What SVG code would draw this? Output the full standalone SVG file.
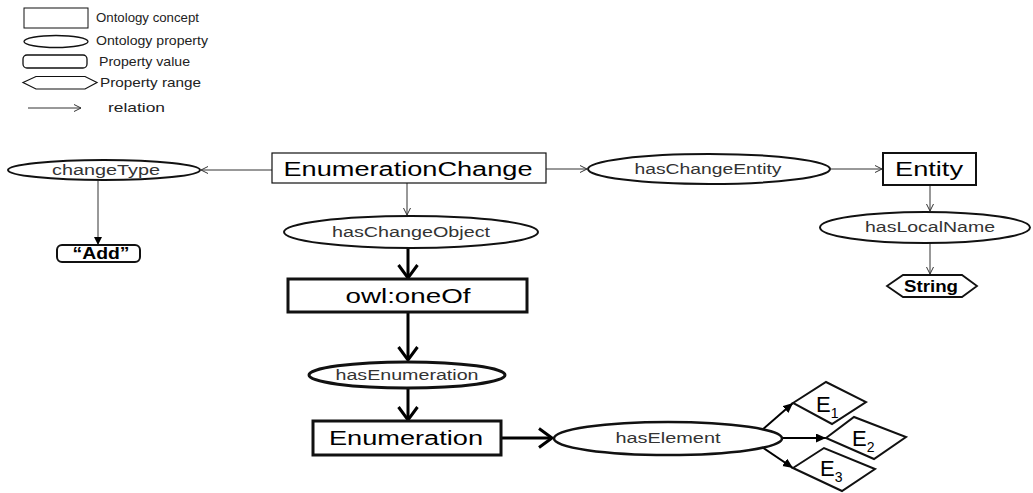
<svg xmlns="http://www.w3.org/2000/svg" width="1033" height="493" viewBox="0 0 1033 493">
<defs>
<style>
.bg{fill:#fff}
.shape{fill:#fff;stroke:#111}
.lg{font-family:"Liberation Sans",Arial,sans-serif;font-size:13px;fill:#222}
.pt{font-family:"Liberation Sans",Arial,sans-serif;font-size:14px;fill:#333;text-anchor:middle}
.nt{font-family:"Liberation Sans",Arial,sans-serif;font-size:20px;fill:#000;text-anchor:middle}
.et{font-family:"Liberation Sans",Arial,sans-serif;font-size:22px;fill:#000;text-anchor:start}
.vt{font-family:"Liberation Sans",Arial,sans-serif;font-size:16px;font-weight:bold;fill:#000;text-anchor:middle}
.thin{stroke:#333;stroke-width:1;fill:none}
.thick{stroke:#000;stroke-width:3;fill:none}
.mid{stroke:#000;stroke-width:2;fill:none}
</style>
<marker id="openThin" markerUnits="userSpaceOnUse" markerWidth="10" markerHeight="10" refX="7" refY="4" orient="auto">
<path d="M0,0.5 L7,4 L0,7.5" fill="none" stroke="#333" stroke-width="1"/>
</marker>
<marker id="fillThin" markerUnits="userSpaceOnUse" markerWidth="10" markerHeight="10" refX="8" refY="4" orient="auto">
<path d="M0,0 L8,4 L0,8 Z" fill="#000"/>
</marker>
<marker id="openThick" markerUnits="userSpaceOnUse" markerWidth="24" markerHeight="24" refX="14" refY="11" orient="auto">
<path d="M1,1.5 L14,11 L1,20.5" fill="none" stroke="#000" stroke-width="3"/>
</marker>
<marker id="fillMid" markerUnits="userSpaceOnUse" markerWidth="14" markerHeight="12" refX="10" refY="4.5" orient="auto">
<path d="M0,0 L10,4.5 L0,9 Z" fill="#000"/>
</marker>
</defs>
<rect class="bg" x="0" y="0" width="1033" height="493"/>

<g id="legend">
<rect class="shape" x="24" y="8" width="64" height="20" stroke-width="1"/>
<text class="lg" x="96" y="22" textLength="103" lengthAdjust="spacingAndGlyphs">Ontology concept</text>
<ellipse class="shape" cx="56" cy="41.5" rx="32" ry="6" stroke-width="1.3"/>
<text class="lg" x="96" y="45" textLength="112" lengthAdjust="spacingAndGlyphs">Ontology property</text>
<rect class="shape" x="23" y="55" width="64" height="13" rx="4" stroke-width="1.3"/>
<text class="lg" x="99" y="66" textLength="91" lengthAdjust="spacingAndGlyphs">Property value</text>
<polygon class="shape" points="23,82.5 36,76.5 85,76.5 97,82.5 85,89 36,89" stroke-width="1.2"/>
<text class="lg" x="100" y="87" textLength="101" lengthAdjust="spacingAndGlyphs">Property range</text>
<line class="thin" x1="28" y1="108" x2="81" y2="108" marker-end="url(#openThin)"/>
<text class="lg" x="108" y="112" textLength="57" lengthAdjust="spacingAndGlyphs">relation</text>
</g>

<g id="connectors">
<line class="thin" x1="272" y1="170" x2="201" y2="170" marker-end="url(#openThin)"/>
<line class="thin" x1="98" y1="181" x2="98" y2="245" marker-end="url(#fillThin)"/>
<line class="thin" x1="546" y1="169" x2="587" y2="169" marker-end="url(#openThin)"/>
<line class="thin" x1="830" y1="169" x2="882" y2="169" marker-end="url(#openThin)"/>
<line class="thin" x1="930" y1="185" x2="930" y2="211" marker-end="url(#openThin)"/>
<line class="thin" x1="930" y1="243" x2="930" y2="274" marker-end="url(#openThin)"/>
<line class="thin" x1="407" y1="183" x2="407" y2="215" marker-end="url(#openThin)"/>
<line class="thick" x1="408" y1="248" x2="408" y2="278" marker-end="url(#openThick)"/>
<line class="thick" x1="408" y1="312" x2="408" y2="360" marker-end="url(#openThick)"/>
<line class="thick" x1="408" y1="388" x2="408" y2="420" marker-end="url(#openThick)"/>
<line class="thick" x1="501" y1="438" x2="552" y2="438" marker-end="url(#openThick)"/>
<line class="mid" x1="762" y1="430" x2="793" y2="403" marker-end="url(#fillMid)"/>
<line class="mid" x1="782" y1="438" x2="826" y2="438" marker-end="url(#fillMid)"/>
<line class="mid" x1="762" y1="447" x2="793" y2="468" marker-end="url(#fillMid)"/>
</g>

<g id="changeType">
<ellipse class="shape" cx="104" cy="170" rx="96" ry="10" stroke-width="2"/>
<text class="pt" x="106" y="175" textLength="108" lengthAdjust="spacingAndGlyphs">changeType</text>
</g>

<g id="add">
<rect class="shape" x="57" y="245" width="83" height="17" rx="5" stroke-width="2"/>
<text class="vt" x="101" y="259" textLength="57" lengthAdjust="spacingAndGlyphs">“Add”</text>
</g>

<g id="enumerationChange">
<rect class="shape" x="272" y="153" width="274" height="30" stroke="#444" stroke-width="1.2"/>
<text class="nt" x="408" y="176" font-size="19" textLength="249" lengthAdjust="spacingAndGlyphs">EnumerationChange</text>
</g>

<g id="hasChangeEntity">
<ellipse class="shape" cx="709" cy="169" rx="121" ry="15" stroke-width="2"/>
<text class="pt" x="708" y="174" textLength="147" lengthAdjust="spacingAndGlyphs">hasChangeEntity</text>
</g>

<g id="entity">
<rect class="shape" x="883" y="153" width="93" height="32" stroke-width="2"/>
<text class="nt" x="929" y="176" font-size="21" textLength="68" lengthAdjust="spacingAndGlyphs">Entity</text>
</g>

<g id="hasLocalName">
<ellipse class="shape" cx="925" cy="227.5" rx="105" ry="15.5" stroke-width="2"/>
<text class="pt" x="930" y="232" textLength="130" lengthAdjust="spacingAndGlyphs">hasLocalName</text>
</g>

<g id="string">
<polygon class="shape" points="887,286 903,275 962,275 977,286 962,297 903,297" stroke-width="1.8"/>
<text class="vt" x="931" y="292" font-size="17" textLength="54" lengthAdjust="spacingAndGlyphs">String</text>
</g>

<g id="hasChangeObject">
<ellipse class="shape" cx="411" cy="232" rx="127" ry="16" stroke-width="2"/>
<text class="pt" x="411" y="237" textLength="158" lengthAdjust="spacingAndGlyphs">hasChangeObject</text>
</g>

<g id="oneOf">
<rect class="shape" x="288" y="279" width="239" height="33" stroke-width="3"/>
<text class="nt" x="408" y="303" font-size="21" textLength="125" lengthAdjust="spacingAndGlyphs">owl:oneOf</text>
</g>

<g id="hasEnumeration">
<ellipse class="shape" cx="407" cy="375" rx="98" ry="13" stroke-width="3"/>
<text class="pt" x="407" y="380" textLength="143" lengthAdjust="spacingAndGlyphs">hasEnumeration</text>
</g>

<g id="enumeration">
<rect class="shape" x="313" y="421" width="188" height="34" stroke-width="3"/>
<text class="nt" x="406" y="445" font-size="21" textLength="154" lengthAdjust="spacingAndGlyphs">Enumeration</text>
</g>

<g id="hasElement">
<ellipse class="shape" cx="668" cy="438.5" rx="114" ry="16.5" stroke-width="2.5"/>
<text class="pt" x="668" y="443" textLength="105" lengthAdjust="spacingAndGlyphs">hasElement</text>
</g>

<g id="e1">
<polygon class="shape" points="793,403 826,382 866,402 832,424" stroke-width="2"/>
<text class="et" x="816" y="412">E<tspan font-size="14" dy="6">1</tspan></text>
</g>

<g id="e2">
<polygon class="shape" points="826,438 854,417 906,437 874,459" stroke-width="2"/>
<text class="et" x="852" y="446">E<tspan font-size="14" dy="6">2</tspan></text>
</g>

<g id="e3">
<polygon class="shape" points="793,468 824,448 875,469 842,491" stroke-width="2"/>
<text class="et" x="820" y="476">E<tspan font-size="14" dy="6">3</tspan></text>
</g>
</svg>
